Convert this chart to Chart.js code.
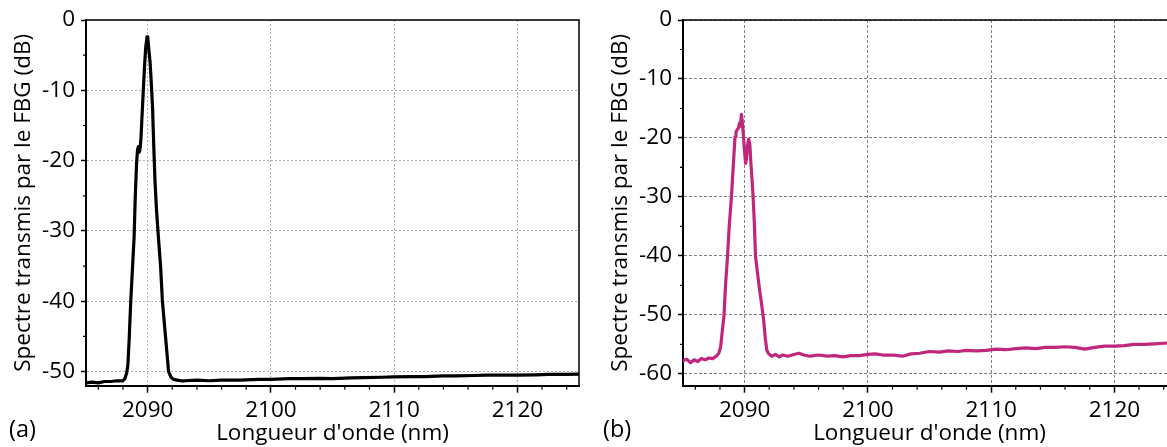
<!DOCTYPE html>
<html lang="fr">
<head>
<meta charset="UTF-8">
<title>Spectre transmis par le FBG</title>
<script src="https://cdn.jsdelivr.net/npm/chart.js"></script>
<style>
  html, body { margin: 0; padding: 0; background: #fff; overflow: hidden; width: 1167px; height: 447px; }
  .panel { position: absolute; top: 0; width: 590px; height: 447px; }
  #panelA { left: 0; }
  #panelB { left: 597px; }
  .tag { position: absolute; top: 417px; font-family: "Open Sans", sans-serif; font-size: 23.5px; line-height: 1; color: #000; }
</style>
</head>
<body>
<div class="panel" id="panelA"><canvas id="chartA"></canvas></div>
<div class="panel" id="panelB"><canvas id="chartB"></canvas></div>
<div class="tag" style="left:9px">(a)</div>
<div class="tag" style="left:603px">(b)</div>
<script>
// (a) spectre transmis, FBG 1
const waveA = [2085, 2085.5, 2086, 2086.5, 2087, 2087.5, 2088.0, 2088.15, 2088.3, 2088.4, 2088.5, 2088.63,
  2088.78, 2088.9, 2089.0, 2089.1, 2089.18, 2089.25, 2089.32, 2089.4, 2089.47, 2089.55, 2089.65, 2089.75,
  2089.85, 2089.95, 2090.02, 2090.1, 2090.2, 2090.3, 2090.4, 2090.5, 2090.6, 2090.72, 2090.88, 2091.05,
  2091.2, 2091.45, 2091.7, 2091.9, 2092.1, 2092.4, 2092.7, 2093, 2094, 2095, 2096, 2097.5, 2099, 2100,
  2101.5, 2102.5, 2104, 2105, 2106.5, 2107.5, 2109, 2110, 2111.5, 2112.5, 2114, 2115, 2116.5, 2117.5,
  2119, 2120, 2121.5, 2122.5, 2124, 2125];
const dbA = [-51.6, -51.5, -51.6, -51.4, -51.4, -51.3, -51.3, -51.0, -50.2, -49, -45.5, -40,
  -35, -31, -25, -20.5, -18.5, -18.0, -18.8, -18.2, -16.5, -13.5, -10, -6.5,
  -3.8, -2.4, -2.7, -4.2, -6.0, -9.0, -12.5, -18, -23, -27, -31, -35,
  -40, -45, -50, -50.8, -51.1, -51.2, -51.3, -51.3, -51.2, -51.3, -51.2, -51.2, -51.1, -51.1,
  -51.0, -51.0, -50.95, -51.0, -50.9, -50.85, -50.8, -50.75, -50.7, -50.7, -50.6, -50.6, -50.55, -50.5,
  -50.5, -50.5, -50.45, -50.4, -50.4, -50.35];

// (b) spectre transmis, FBG 2
const waveB = [2085, 2085.3, 2085.6, 2085.9, 2086.2, 2086.5, 2086.8, 2087.1, 2087.4, 2087.7, 2087.9, 2088.05,
  2088.2, 2088.33, 2088.45, 2088.6, 2088.75, 2088.93, 2089.1, 2089.22, 2089.3, 2089.4, 2089.5, 2089.58,
  2089.66, 2089.74, 2089.8, 2089.9, 2090.0, 2090.08, 2090.15, 2090.25, 2090.33, 2090.42, 2090.5, 2090.6,
  2090.69, 2090.8, 2090.88, 2091.05, 2091.23, 2091.4, 2091.55, 2091.68, 2091.8, 2091.95, 2092.2, 2092.5,
  2092.8, 2093.1, 2093.5, 2094, 2094.4, 2094.8, 2095.3, 2096, 2096.7, 2097.3, 2098, 2098.6, 2099.3, 2100,
  2100.6, 2101.2, 2102, 2102.8, 2103.5, 2104.2, 2105, 2105.8, 2106.5, 2107.3, 2108, 2108.8, 2109.6, 2110.4,
  2111.2, 2112, 2112.8, 2113.6, 2114.4, 2115.2, 2116, 2116.8, 2117.6, 2118.4, 2119.2, 2120, 2120.8, 2121.6,
  2122.4, 2123.2, 2124, 2125];
const dbB = [-57.8, -57.5, -58.1, -57.6, -57.9, -57.4, -57.6, -57.3, -57.4, -57.0, -56.5, -55.5,
  -52.5, -50, -45, -40.5, -35, -30, -24, -19.8, -19.0, -18.6, -18.3, -17.5,
  -18.0, -16.0, -17.0, -19.5, -22.5, -24.3, -23.5, -21.0, -20.2, -21.0, -24, -27,
  -30, -35, -40, -43, -46, -48.5, -51, -54, -56.0, -56.6, -57.0, -56.7,
  -57.1, -56.8, -57.0, -56.7, -56.5, -56.8, -57.0, -56.8, -57.0, -56.9, -57.1, -56.9, -56.9, -56.7,
  -56.6, -56.8, -56.8, -57.0, -56.6, -56.5, -56.2, -56.3, -56.1, -56.2, -56.0, -56.1, -56.0, -55.8,
  -55.9, -55.7, -55.6, -55.7, -55.5, -55.5, -55.4, -55.5, -55.8, -55.5, -55.3, -55.3, -55.2, -55.0,
  -55.0, -54.9, -54.8, -54.7];

const xTicks = [2090, 2100, 2110, 2120];
const xMinor = [2086, 2088, 2092, 2094, 2096, 2098, 2102, 2104, 2106, 2108, 2112, 2114, 2116, 2118, 2122, 2124];
const yTicksA = [0, -10, -20, -30, -40, -50];
const yMinorA = [-5, -15, -25, -35, -45];
const yTicksB = [0, -10, -20, -30, -40, -50, -60];
const yMinorB = [-5, -15, -25, -35, -45, -55];

const FONT = '"Open Sans", sans-serif';
const FS = 22.5;

// cadre haut/droite + petites graduations
const frame = {
  id: 'frame',
  afterDraw(chart, args, opts) {
    const { ctx, chartArea: a, scales } = chart;
    ctx.save();
    ctx.strokeStyle = '#000';
    ctx.lineWidth = 1.5;
    ctx.beginPath();
    ctx.moveTo(a.left, a.top); ctx.lineTo(a.right, a.top); ctx.lineTo(a.right, a.bottom);
    ctx.stroke();
    ctx.lineWidth = 1.2;
    ctx.beginPath();
    opts.xMinor.forEach(v => {
      const px = scales.x.getPixelForValue(v);
      ctx.moveTo(px, a.bottom); ctx.lineTo(px, a.bottom + 4);
    });
    opts.yMinor.forEach(v => {
      const py = scales.y.getPixelForValue(v);
      ctx.moveTo(a.left, py); ctx.lineTo(a.left - 3, py);
    });
    ctx.stroke();
    ctx.restore();
  }
};

function makeChart(id, wave, db, color, lw, yMin, yTicks, yMinor, gridColor, dash) {
  return new Chart(document.getElementById(id), {
    type: 'line',
    data: {
      datasets: [{
        data: wave.map((w, i) => ({ x: w, y: db[i] })),
        borderColor: color,
        borderWidth: lw,
        borderJoinStyle: 'round',
        borderCapStyle: 'round',
        pointRadius: 0,
        tension: 0
      }]
    },
    options: {
      responsive: true,
      maintainAspectRatio: false,
      animation: false,
      layout: { padding: { top: 20, right: 11, left: 0, bottom: 0 } },
      plugins: {
        legend: { display: false },
        tooltip: { enabled: false },
        frame: { xMinor: xMinor, yMinor: yMinor }
      },
      scales: {
        x: {
          type: 'linear',
          min: 2085, max: 2125,
          afterBuildTicks: s => { s.ticks = xTicks.map(v => ({ value: v })); },
          afterFit: s => { s.height = 61.3; },
          grid: { color: gridColor, lineWidth: 1, tickColor: '#000', tickLength: 7, tickWidth: 1.5, tickBorderDash: [] },
          border: { color: '#000', width: 2, dash: dash },
          ticks: { color: '#000', font: { family: FONT, size: FS }, padding: 4, maxRotation: 0, callback: v => String(v) },
          title: { display: true, text: "Longueur d'onde (nm)", color: '#000', font: { family: FONT, size: FS }, padding: { top: 0, bottom: 0 } }
        },
        y: {
          min: yMin, max: 0,
          afterBuildTicks: s => { s.ticks = yTicks.map(v => ({ value: v })); },
          afterFit: s => { s.width = 86; },
          grid: { color: gridColor, lineWidth: 1, tickColor: '#000', tickLength: 5, tickWidth: 1.5, tickBorderDash: [] },
          border: { color: '#000', width: 2, dash: dash },
          ticks: { color: '#000', font: { family: FONT, size: FS }, padding: 6, callback: v => String(v) },
          title: { display: true, text: 'Spectre transmis par le FBG (dB)', color: '#000', font: { family: FONT, size: FS }, padding: { top: 10, bottom: 0 } }
        }
      }
    },
    plugins: [frame]
  });
}

makeChart('chartA', waveA, dbA, '#000000', 3.2, -52, yTicksA, yMinorA, '#b0b0b0', [2, 2]);
makeChart('chartB', waveB, dbB, '#c0267c', 3.2, -62, yTicksB, yMinorB, '#808080', [3, 2]);
</script>
</body>
</html>
